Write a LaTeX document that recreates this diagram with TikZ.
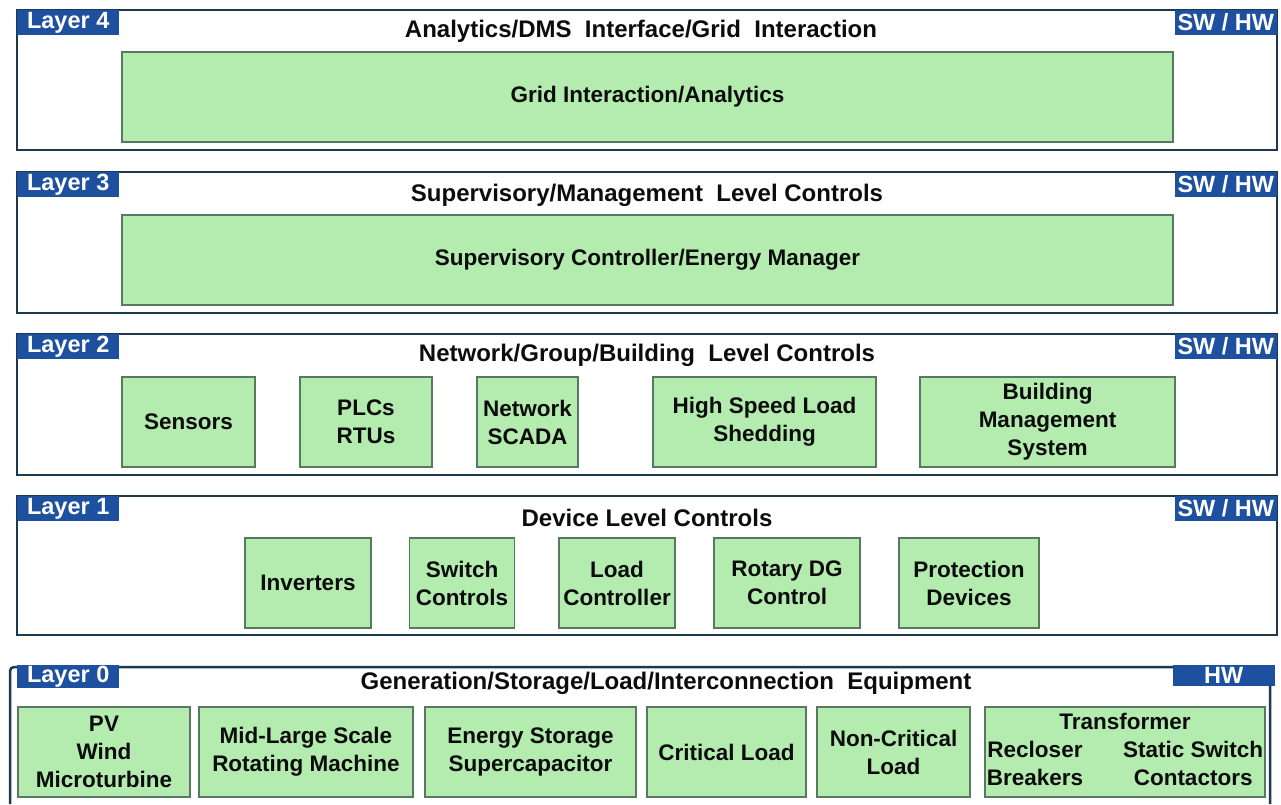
\documentclass[tikz,border=0pt]{standalone}
\usepackage{fontspec}
\setmainfont{Liberation Sans}
\usetikzlibrary{positioning}
\definecolor{colorframe}  {RGB}{28 ,58 ,76 }
\definecolor{colortag}    {RGB}{30 ,80 ,160}
\definecolor{colorbox}    {RGB}{180,236,176}
\definecolor{colorboxline}{RGB}{88 ,120,96 }
\definecolor{colortext}   {RGB}{12 ,12 ,12 }

\begin{document}
\begin{tikzpicture}[
    x=1pt, y=-1pt,
    font={\fontsize{22.5}{28}\selectfont\bfseries},
    layerframe/.style={draw=colorframe,line width=2.5pt,rectangle,minimum width=1260pt,inner sep=0pt,outer sep=0pt},
    layertag/.style={fill=colortag,text=white,font={\fontsize{23.5}{26}\selectfont\bfseries},inner sep=0pt,minimum height=25pt,minimum width=102pt},
    heading/.style={text=colortext,font={\fontsize{24}{28}\selectfont\bfseries},inner sep=0pt},
    box/.style={draw=colorboxline,fill=colorbox,line width=1.2pt,text=colortext,align=center,inner sep=1pt,minimum height=90pt},
]

    \useasboundingbox (0,0) rectangle (1281,804);

    % Layer frames
    \node[layerframe,minimum height=140pt] (layer4) at (647,80)    {};
    \node[layerframe,minimum height=141pt] (layer3) at (647,242.5) {};
    \node[layerframe,minimum height=141pt] (layer2) at (647,404.5) {};
    \node[layerframe,minimum height=139pt] (layer1) at (647,565.5) {};
    \coordinate (layer0) at (640,667);
    \draw[colorframe,line width=2.5pt,rounded corners=4pt] (10,804) |- (1270,667) -- (1270,804);

    % Tags
    \node[layertag,anchor=north west] (tag4) at (layer4.north west) {Layer 4};
    \node[layertag,anchor=north west] (tag3) at (layer3.north west) {Layer 3};
    \node[layertag,anchor=north west] (tag2) at (layer2.north west) {Layer 2};
    \node[layertag,anchor=north west] (tag1) at (layer1.north west) {Layer 1};
    \node[layertag,anchor=north west,minimum height=23pt] (tag0) at ([xshift=7pt,yshift=2pt]layer0 -| 10,0) {Layer 0};
    \node[layertag,anchor=north east] (hw4) at (layer4.north east) {SW / HW};
    \node[layertag,anchor=north east] (hw3) at (layer3.north east) {SW / HW};
    \node[layertag,anchor=north east] (hw2) at (layer2.north east) {SW / HW};
    \node[layertag,anchor=north east] (hw1) at (layer1.north east) {SW / HW};
    \node[layertag,anchor=north east,minimum height=21pt] (hw0) at ([yshift=2pt]layer0 -| 1275,0) {HW};

    % Headings
    \node[heading] (head4) at ([xshift=-6pt,yshift=-21pt]layer4.north) {Analytics/DMS\ \ Interface/Grid\ \ Interaction};
    \node[heading] (head3) at ([yshift=-23pt]layer3.north) {Supervisory/Management\ \ Level Controls};
    \node[heading] (head2) at ([yshift=-21pt]layer2.north) {Network/Group/Building\ \ Level Controls};
    \node[heading] (head1) at ([yshift=-22pt]layer1.north) {Device Level Controls};
    \node[heading] (head0) at ([xshift=26pt,yshift=-16pt]layer0) {Generation/Storage/Load/Interconnection\ \ Equipment};

    % Layer 4
    \node[box,minimum width=1051pt] (grid) at (647.5,97) {Grid Interaction/Analytics};

    % Layer 3
    \node[box,minimum width=1051pt] (supervisory) at (647.5,260) {Supervisory Controller/Energy Manager};

    % Layer 2
    \node[box,minimum width=133pt] (sensors)  at (188.5,422)  {Sensors};
    \node[box,minimum width=132pt] (plcs)     at (366,422)    {PLCs\\RTUs};
    \node[box,minimum width=101pt] (scada)    at (527.5,422)  {Network\\SCADA};
    \node[box,minimum width=223pt] (loadshed) at (764.5,422)  {High Speed Load\\Shedding};
    \node[box,minimum width=255pt] (bms)      at (1047.5,422) {Building\\Management\\System};

    % Layer 1
    \node[box,minimum width=126pt] (inverters)  at (308,583) {Inverters};
    \node[box,minimum width=105pt] (switchctl)  at (462,583) {Switch\\Controls};
    \node[box,minimum width=116pt] (loadctl)    at (617,583) {Load\\Controller};
    \node[box,minimum width=146pt] (rotarydg)   at (787,583) {Rotary DG\\Control};
    \node[box,minimum width=140pt] (protection) at (969,583) {Protection\\Devices};

    % Layer 0
    \node[box,minimum width=172pt] (pv)          at (104,752)    {PV\\Wind\\Microturbine};
    \node[box,minimum width=214pt] (rotating)    at (306,752)    {Mid-Large Scale\\Rotating Machine};
    \node[box,minimum width=211pt] (storage)     at (530.5,752)  {Energy Storage\\Supercapacitor};
    \node[box,minimum width=159pt] (critical)    at (726.5,752)  {Critical Load};
    \node[box,minimum width=153pt] (noncritical) at (893.5,752)  {Non-Critical\\Load};
    \node[box,minimum width=280pt] (transformer) at (1125,752)   {\begin{tabular}{@{}c@{\hspace{40pt}}c@{}}\multicolumn{2}{c}{Transformer}\\Recloser & Static Switch\\Breakers & Contactors\end{tabular}};

\end{tikzpicture}
\end{document}
